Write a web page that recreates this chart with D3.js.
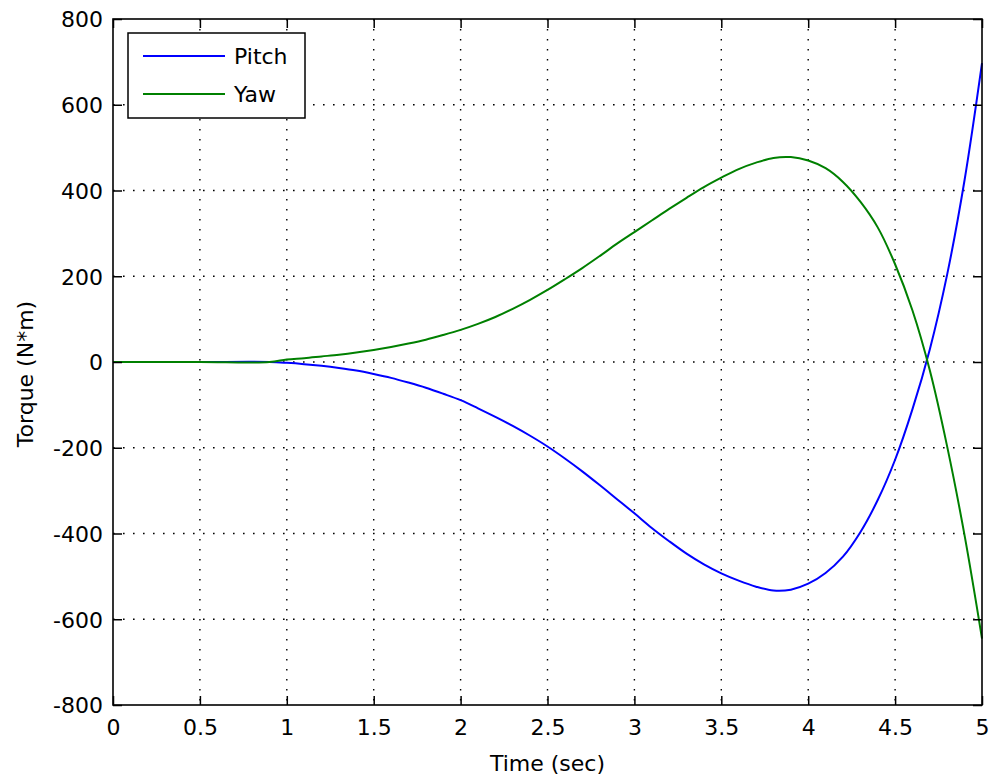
<!DOCTYPE html>
<html><head><meta charset="utf-8">
<script src="https://cdn.jsdelivr.net/npm/d3@7"></script>
<style>body{margin:0;background:#fff}svg{display:block}text{font-family:"DejaVu Sans",sans-serif;font-size:22px;fill:#000}</style>
</head><body>
<script>
const timeValues = [0,0.5,0.9,1.0,1.1,1.2,1.3,1.4,1.5,1.6,1.7,1.8,1.9,2.0,2.1,2.2,2.3,2.4,2.5,2.6,2.7,2.8,2.9,3.0,3.1,3.2,3.3,3.4,3.5,3.6,3.7,3.8,3.9,4.0,4.1,4.2,4.3,4.4,4.5,4.6,4.7,4.8,4.9,5.0];
const pitchValues = [0,0,0,-2,-5,-9,-14,-20,-28,-37,-48,-60,-74,-89,-108,-128,-149,-172,-197,-225,-255,-287,-320,-353,-387,-418,-447,-472,-493,-510,-524,-533,-531,-517,-492,-454,-397,-322,-228,-110,30,205,425,697];
const yawValues = [0,0,0,6,9,13,17,22,28,35,43,52,63,75,89,105,124,145,168,193,219,247,276,303,330,357,383,408,430,450,465,476,478,470,452,420,374,314,228,120,-20,-198,-405,-645];
const xTicks = [0,0.5,1,1.5,2,2.5,3,3.5,4,4.5,5];
const yTicks = [-800,-600,-400,-200,0,200,400,600,800];
const seriesNames = ["Pitch","Yaw"];
const seriesColors = ["#0000ff","#008000"];

const W=994,H=782, L=113, R=982, T=19, B=705;
const svg=d3.select("body").append("svg").attr("width",W).attr("height",H);
const x=d3.scaleLinear().domain([0,5]).range([L,R]);
const y=d3.scaleLinear().domain([-800,800]).range([B,T]);

// grid
const g=svg.append("g");
g.selectAll(".gx").data(xTicks.slice(1,-1)).join("line")
 .attr("x1",d=>x(d)).attr("x2",d=>x(d)).attr("y1",T).attr("y2",B)
 .attr("stroke","#000").attr("stroke-width",1.4).attr("stroke-dasharray","1.6 8.4");
g.selectAll(".gy").data(yTicks.slice(1,-1)).join("line")
 .attr("y1",d=>y(d)).attr("y2",d=>y(d)).attr("x1",L).attr("x2",R)
 .attr("stroke","#000").attr("stroke-width",1.4).attr("stroke-dasharray","1.6 8.4");

// lines
const data=[pitchValues,yawValues];
const line=d3.line().x((d,i)=>x(timeValues[i])).y(d=>y(d)).curve(d3.curveCatmullRom.alpha(0.5));
data.forEach((vals,k)=>{
  svg.append("path").attr("d",line(vals)).attr("fill","none")
   .attr("stroke",seriesColors[k]).attr("stroke-width",2);
});

// axes
const tl=9;
const fmt=d=>String(d);
const xb=d3.axisBottom(x).tickValues(xTicks).tickSize(-tl).tickFormat(fmt);
const xt=d3.axisTop(x).tickValues(xTicks).tickSize(-tl).tickFormat("");
const yl=d3.axisLeft(y).tickValues(yTicks).tickSize(-tl).tickFormat(fmt);
const yr=d3.axisRight(y).tickValues(yTicks).tickSize(-tl).tickFormat("");
function style(sel){sel.selectAll("path").remove();sel.selectAll("line").attr("stroke","#000").attr("stroke-width",1.5);}
const gxb=svg.append("g").attr("transform",`translate(0,${B})`).call(xb).call(style);
gxb.selectAll("text").attr("dy",null).attr("y",30).attr("fill","#000");
svg.append("g").attr("transform",`translate(0,${T})`).call(xt).call(style);
const gyl=svg.append("g").attr("transform",`translate(${L},0)`).call(yl).call(style);
gyl.selectAll("text").attr("x",-10).attr("dy","0.36em").attr("fill","#000");
svg.append("g").attr("transform",`translate(${R},0)`).call(yr).call(style);
svg.selectAll(".tick text").style("font-family","DejaVu Sans").style("font-size","22px");

// frame
svg.append("rect").attr("x",L).attr("y",T).attr("width",R-L).attr("height",B-T)
 .attr("fill","none").attr("stroke","#000").attr("stroke-width",1.6);

// labels
svg.append("text").attr("x",(L+R)/2).attr("y",771).attr("text-anchor","middle").text("Time (sec)");
svg.append("text").attr("transform",`translate(33,${(T+B)/2+12}) rotate(-90)`).attr("text-anchor","middle").text("Torque (N*m)");

// legend
const lg=svg.append("g");
lg.append("rect").attr("x",128).attr("y",33).attr("width",177).attr("height",85)
 .attr("fill","#fff").attr("stroke","#000").attr("stroke-width",1.5);
seriesNames.forEach((n,k)=>{
  const yy=56+k*38;
  lg.append("line").attr("x1",143).attr("x2",225).attr("y1",yy).attr("y2",yy)
    .attr("stroke",seriesColors[k]).attr("stroke-width",2);
  lg.append("text").attr("x",234).attr("y",yy+8).text(n);
});
</script>
</body></html>
